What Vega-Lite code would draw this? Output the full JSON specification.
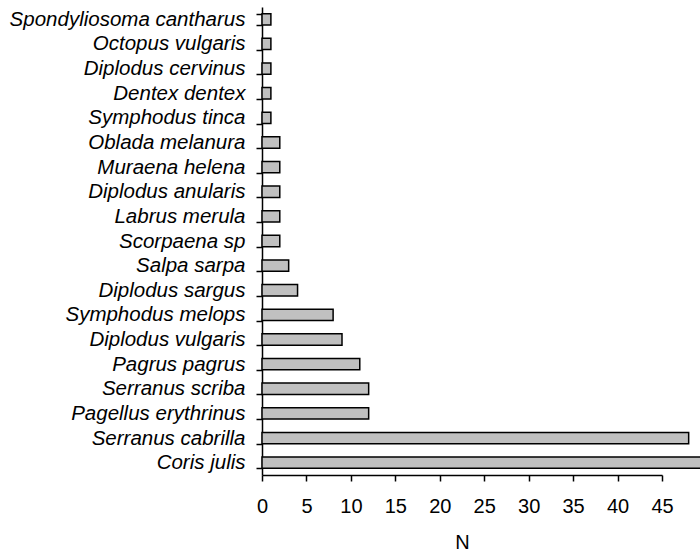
{
  "$schema": "https://vega.github.io/schema/vega-lite/v6.json",
  "autosize": {"type": "none"},
  "padding": {"left": 262, "top": 7, "right": 38, "bottom": 77},
  "width": 400,
  "height": 468,
  "background": "white",
  "config": {"view": {"stroke": null}},
  "data": {"values": [
    {"species": "Spondyliosoma cantharus", "N": 1},
    {"species": "Octopus vulgaris", "N": 1},
    {"species": "Diplodus cervinus", "N": 1},
    {"species": "Dentex dentex", "N": 1},
    {"species": "Symphodus tinca", "N": 1},
    {"species": "Oblada melanura", "N": 2},
    {"species": "Muraena helena", "N": 2},
    {"species": "Diplodus anularis", "N": 2},
    {"species": "Labrus merula", "N": 2},
    {"species": "Scorpaena sp", "N": 2},
    {"species": "Salpa sarpa", "N": 3},
    {"species": "Diplodus sargus", "N": 4},
    {"species": "Symphodus melops", "N": 8},
    {"species": "Diplodus vulgaris", "N": 9},
    {"species": "Pagrus pagrus", "N": 11},
    {"species": "Serranus scriba", "N": 12},
    {"species": "Pagellus erythrinus", "N": 12},
    {"species": "Serranus cabrilla", "N": 48},
    {"species": "Coris julis", "N": 55}
  ]},
  "mark": {"type": "bar", "fill": "#c0c0c0", "stroke": "black", "strokeWidth": 1.5, "clip": false},
  "encoding": {
    "y": {
      "field": "species", "type": "nominal", "sort": null,
      "scale": {"paddingInner": 0.54, "paddingOuter": 0.27},
      "axis": {
        "title": null, "tickBand": "extent", "tickSize": 6, "tickColor": "black", "tickWidth": 1.5,
        "domainColor": "black", "domainWidth": 1.5,
        "labelFont": "Liberation Sans", "labelFontStyle": "italic", "labelFontSize": 20.5,
        "labelColor": "black", "labelPadding": 11, "labelLimit": 400
      }
    },
    "x": {
      "field": "N", "type": "quantitative",
      "scale": {"domain": [0, 45], "nice": false, "clamp": false},
      "axis": {
        "title": "N", "values": [0, 5, 10, 15, 20, 25, 30, 35, 40, 45], "grid": false, "labelFlush": false,
        "tickSize": 6, "tickColor": "black", "tickWidth": 1.5,
        "domainColor": "black", "domainWidth": 1.5,
        "labelFont": "Liberation Sans", "labelFontSize": 20, "labelColor": "black", "labelPadding": 15,
        "titleFont": "Liberation Sans", "titleFontSize": 20, "titleFontWeight": "normal", "titleColor": "black", "titlePadding": 16
      }
    }
  }
}
